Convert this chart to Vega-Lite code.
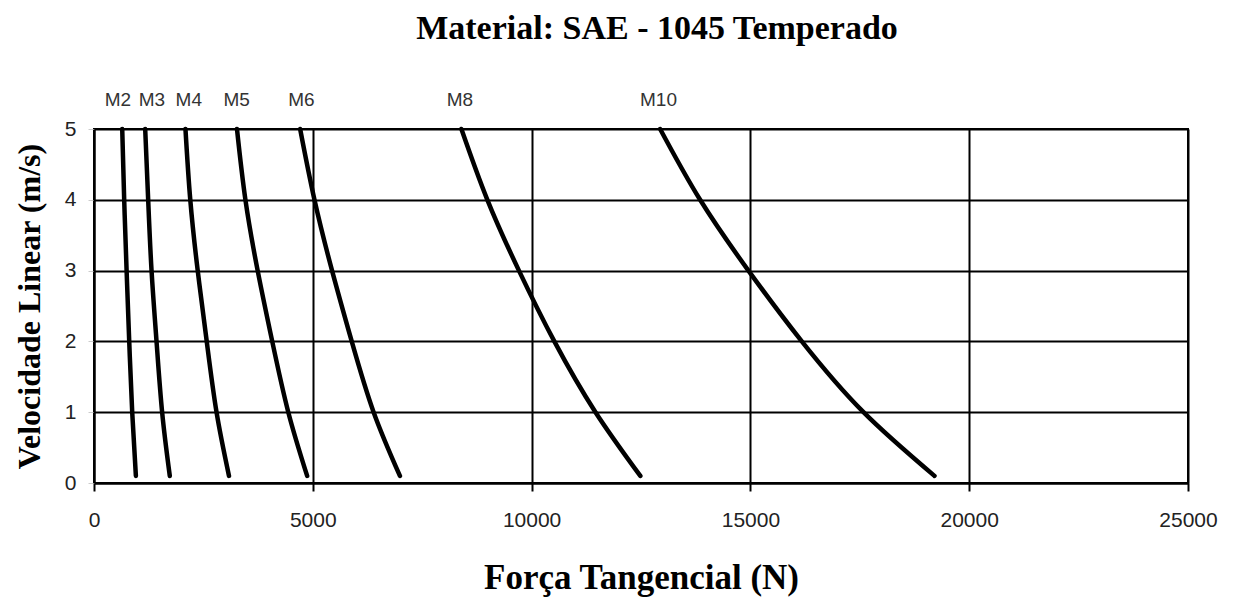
{
  "$schema": "https://vega.github.io/schema/vega-lite/v6.json",
  "autosize": "none",
  "width": 1094,
  "height": 354,
  "padding": {"left": 94, "top": 129, "right": 51, "bottom": 118},
  "background": "white",
  "config": {
    "view": {"stroke": "black", "strokeWidth": 2},
    "axis": {"gridColor": "black", "gridWidth": 2, "gridOpacity": 1, "domainColor": "black", "domainWidth": 2, "labelFont": "Liberation Sans", "labelFontSize": 21, "labelColor": "#222", "titleFont": "Liberation Serif", "titleFontWeight": "bold", "titleColor": "black"}
  },
  "title": {"text": "Material: SAE - 1045 Temperado", "font": "Liberation Serif", "fontSize": 34, "fontWeight": "bold", "color": "black", "anchor": "middle", "dx": 16, "offset": 45},
  "datasets": {
    "curves": [
      {"s": "M2", "f": 645, "v": 5}, {"s": "M2", "f": 690, "v": 4}, {"s": "M2", "f": 745, "v": 3}, {"s": "M2", "f": 805, "v": 2}, {"s": "M2", "f": 873, "v": 1}, {"s": "M2", "f": 957, "v": 0.1},
      {"s": "M3", "f": 1170, "v": 5}, {"s": "M3", "f": 1238, "v": 4}, {"s": "M3", "f": 1315, "v": 3}, {"s": "M3", "f": 1429, "v": 2}, {"s": "M3", "f": 1557, "v": 1}, {"s": "M3", "f": 1732, "v": 0.1},
      {"s": "M4", "f": 2090, "v": 5}, {"s": "M4", "f": 2200, "v": 4}, {"s": "M4", "f": 2370, "v": 3}, {"s": "M4", "f": 2576, "v": 2}, {"s": "M4", "f": 2800, "v": 1}, {"s": "M4", "f": 3085, "v": 0.1},
      {"s": "M5", "f": 3267, "v": 5}, {"s": "M5", "f": 3460, "v": 4}, {"s": "M5", "f": 3740, "v": 3}, {"s": "M5", "f": 4073, "v": 2}, {"s": "M5", "f": 4440, "v": 1}, {"s": "M5", "f": 4871, "v": 0.1},
      {"s": "M6", "f": 4711, "v": 5}, {"s": "M6", "f": 5038, "v": 4}, {"s": "M6", "f": 5440, "v": 3}, {"s": "M6", "f": 5890, "v": 2}, {"s": "M6", "f": 6390, "v": 1}, {"s": "M6", "f": 6991, "v": 0.1},
      {"s": "M8", "f": 8396, "v": 5}, {"s": "M8", "f": 8989, "v": 4}, {"s": "M8", "f": 9711, "v": 3}, {"s": "M8", "f": 10520, "v": 2}, {"s": "M8", "f": 11460, "v": 1}, {"s": "M8", "f": 12485, "v": 0.1},
      {"s": "M10", "f": 12937, "v": 5}, {"s": "M10", "f": 13851, "v": 4}, {"s": "M10", "f": 14955, "v": 3}, {"s": "M10", "f": 16175, "v": 2}, {"s": "M10", "f": 17584, "v": 1}, {"s": "M10", "f": 19207, "v": 0.1}
    ],
    "labels": [
      {"s": "M2", "f": 547, "v": 5.41},
      {"s": "M3", "f": 1322, "v": 5.41},
      {"s": "M4", "f": 2166, "v": 5.41},
      {"s": "M5", "f": 3260, "v": 5.41},
      {"s": "M6", "f": 4740, "v": 5.41},
      {"s": "M8", "f": 8360, "v": 5.41},
      {"s": "M10", "f": 12900, "v": 5.41}
    ]
  },
  "layer": [
    {
      "data": {"name": "curves"},
      "mark": {"type": "line", "color": "black", "strokeWidth": 4.5, "interpolate": "natural", "strokeCap": "round"},
      "encoding": {
        "x": {"field": "f", "type": "quantitative", "scale": {"domain": [0, 25000], "nice": false}, "axis": {"values": [0, 5000, 10000, 15000, 20000, 25000], "format": "d", "labelFlush": false, "grid": true, "tickColor": "black", "tickWidth": 2, "tickSize": 8, "labelPadding": 18, "title": "Força Tangencial (N)", "titleFontSize": 35, "titlePadding": 30}},
        "y": {"field": "v", "type": "quantitative", "scale": {"domain": [0, 5], "nice": false}, "axis": {"values": [0, 1, 2, 3, 4, 5], "format": "d", "grid": true, "tickColor": "#ccc", "tickSize": 6, "labelPadding": 12, "title": "Velocidade Linear (m/s)", "titleFontSize": 32, "titlePadding": 18}},
        "detail": {"field": "s"},
        "order": {"field": "v", "sort": "descending"}
      }
    },
    {
      "data": {"name": "labels"},
      "mark": {"type": "text", "font": "Liberation Sans", "fontSize": 19, "color": "#333", "baseline": "middle", "clip": false},
      "encoding": {
        "x": {"field": "f", "type": "quantitative"},
        "y": {"field": "v", "type": "quantitative"},
        "text": {"field": "s"}
      }
    }
  ]
}
